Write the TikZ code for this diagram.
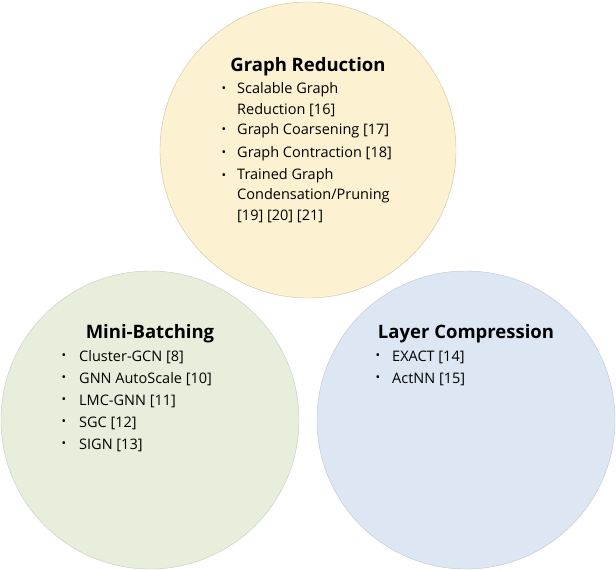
\documentclass[tikz,border=0pt]{standalone}
\usepackage{fontspec}
\setmainfont{Open Sans}
\begin{document}
\begin{tikzpicture}[x=1pt,y=-1pt,
  ttl/.style={font=\fontsize{18.5}{22}\selectfont\bfseries},
  itm/.style={anchor=west,font=\fontsize{14.5}{21}\selectfont,inner sep=0pt,align=left},
  bul/.style={anchor=center,font=\fontsize{12}{12}\selectfont,inner sep=0pt}]
\useasboundingbox (0,0) rectangle (616,570);
\definecolor{cy}{HTML}{FCF1D0}
\definecolor{cg}{HTML}{E7EFDC}
\definecolor{cb}{HTML}{DDE7F3}
\fill[cy,draw=cy!80!black] (308,150) circle (148);
\fill[cg,draw=cg!85!black] (150,420) circle (149);
\fill[cb,draw=cb!85!black] (466,420) circle (149);
\node[ttl] (t1) at (308,67) {Graph Reduction};
\foreach \y [count=\i] in {90,131,154,177}
  {\node[bul] (b1\i) at (224,\y) {•};}
\node[itm] (a1) at (237,90) {Scalable Graph};
\node[itm] (a2) at (237,110) {Reduction [16]};
\node[itm] (a3) at (237,131) {Graph Coarsening [17]};
\node[itm] (a4) at (237,154) {Graph Contraction [18]};
\node[itm] (a5) at (237,176) {Trained Graph};
\node[itm] (a6) at (237,196) {Condensation/Pruning};
\node[itm] (a7) at (237,216) {[19] [20] [21]};
\node[ttl] (t2) at (150,334) {Mini-Batching};
\foreach \y/\t [count=\i] in {357/Cluster-GCN [8],379/GNN AutoScale [10],401/LMC-GNN [11],423/SGC [12],445/SIGN [13]}
  {\node[bul] (b2\i) at (64,\y) {•}; \node[itm] (c\i) at (79,\y) {\t};}
\node[ttl] (t3) at (466,334) {Layer Compression};
\foreach \y/\t [count=\i] in {357/EXACT [14],379/ActNN [15]}
  {\node[bul] (b3\i) at (378,\y) {•}; \node[itm] (d\i) at (392,\y) {\t};}
\end{tikzpicture}
\end{document}
